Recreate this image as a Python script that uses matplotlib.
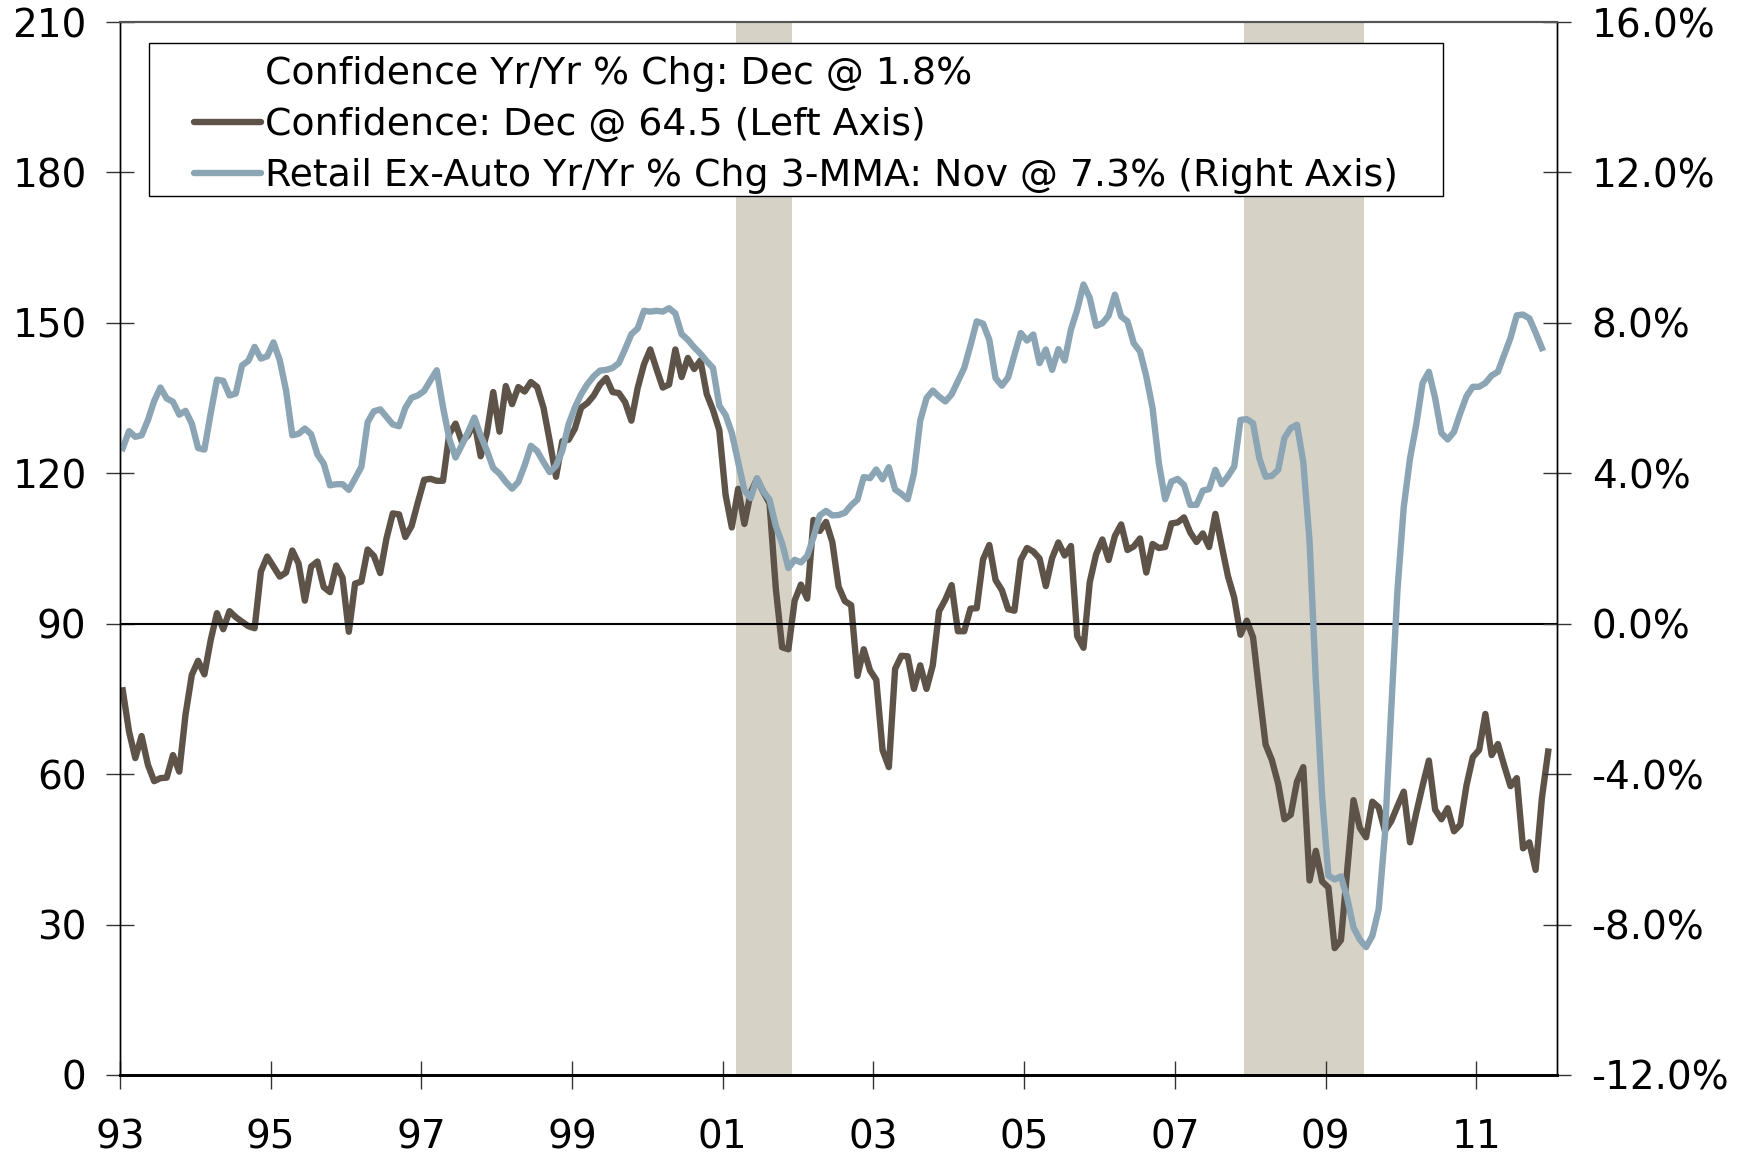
import matplotlib
matplotlib.use('Agg')
import matplotlib.pyplot as plt
from matplotlib.lines import Line2D
from matplotlib.patches import Rectangle
import numpy as np

plt.rcParams['font.family'] = 'DejaVu Sans'

# Conference Board consumer confidence, monthly Jan 1993 - Dec 2011 (left axis)
confidence = [
    76.7, 68.5, 63.2, 67.6, 61.9, 58.6, 59.2, 59.3, 63.8, 60.5, 71.9, 79.8,
    82.6, 79.9, 86.7, 92.1, 88.9, 92.5, 91.3, 90.4, 89.5, 89.1, 100.4, 103.4,
    101.4, 99.4, 100.2, 104.6, 102.0, 94.6, 101.4, 102.4, 97.3, 96.3, 101.6, 99.2,
    88.4, 98.0, 98.4, 104.8, 103.5, 100.1, 107.0, 112.0, 111.8, 107.3, 109.5, 114.2,
    118.7, 118.9, 118.5, 118.5, 127.9, 129.9, 126.3, 127.6, 130.2, 123.4, 128.1, 136.2,
    128.3, 137.4, 133.8, 137.2, 136.3, 138.2, 137.2, 133.1, 126.4, 119.3, 126.4, 126.7,
    128.9, 133.1, 134.0, 135.5, 137.7, 139.0, 136.2, 136.0, 134.2, 130.5, 137.0, 141.7,
    144.7, 140.8, 137.1, 137.7, 144.7, 139.2, 143.0, 140.8, 142.5, 135.8, 132.6, 128.6,
    115.7, 109.2, 116.9, 109.9, 116.1, 118.9, 116.3, 114.0, 97.0, 85.3, 84.9, 94.6,
    97.8, 95.0, 110.7, 108.5, 110.3, 106.3, 97.4, 94.5, 93.7, 79.6, 84.9, 80.7,
    78.8, 64.8, 61.4, 81.0, 83.6, 83.5, 77.0, 81.7, 77.0, 81.7, 92.5, 94.8,
    97.7, 88.5, 88.5, 93.0, 93.1, 102.8, 105.7, 98.7, 96.7, 92.9, 92.6, 102.7,
    105.1, 104.4, 103.0, 97.5, 103.1, 106.2, 103.6, 105.5, 87.5, 85.2, 98.3, 103.8,
    106.8, 102.7, 107.5, 109.8, 104.7, 105.4, 107.0, 100.2, 105.9, 105.1, 105.3, 110.0,
    110.2, 111.2, 108.2, 106.3, 108.0, 105.3, 111.9, 105.6, 99.5, 95.2, 87.8, 90.6,
    87.3, 76.4, 65.9, 62.8, 58.1, 51.0, 51.9, 58.5, 61.4, 38.8, 44.7, 38.6,
    37.4, 25.3, 26.9, 40.8, 54.8, 49.3, 47.4, 54.5, 53.4, 48.7, 50.6, 53.6,
    56.5, 46.4, 52.3, 57.7, 62.7, 52.9, 51.0, 53.2, 48.6, 49.9, 57.8, 63.4,
    64.8, 72.0, 63.8, 66.0, 61.7, 57.6, 59.2, 45.2, 46.4, 40.9, 55.2, 64.5,
]

# Retail sales ex-auto, yr/yr % chg 3-MMA, monthly Jan 1993 - Nov 2011 (right axis)
retail = [
    4.67, 5.12, 4.97, 5.01, 5.41, 5.92, 6.28, 5.99, 5.90, 5.56, 5.66, 5.32,
    4.67, 4.63, 5.59, 6.49, 6.46, 6.07, 6.12, 6.87, 6.99, 7.36, 7.05, 7.11,
    7.48, 7.01, 6.21, 5.01, 5.05, 5.19, 5.04, 4.50, 4.26, 3.68, 3.71, 3.71,
    3.56, 3.86, 4.17, 5.36, 5.65, 5.70, 5.50, 5.30, 5.25, 5.74, 6.01, 6.07,
    6.19, 6.47, 6.74, 5.76, 4.92, 4.42, 4.75, 5.10, 5.48, 5.00, 4.60, 4.14,
    3.99, 3.77, 3.59, 3.77, 4.21, 4.73, 4.59, 4.30, 4.03, 4.20, 4.60, 5.30,
    5.75, 6.10, 6.37, 6.58, 6.73, 6.75, 6.80, 6.93, 7.30, 7.70, 7.85, 8.32,
    8.30, 8.32, 8.30, 8.39, 8.25, 7.70, 7.55, 7.35, 7.18, 6.98, 6.80, 5.80,
    5.55, 5.07, 4.30, 3.55, 3.34, 3.87, 3.52, 3.30, 2.60, 2.14, 1.48, 1.70,
    1.63, 1.80, 2.30, 2.88, 3.00, 2.88, 2.89, 2.95, 3.15, 3.30, 3.90, 3.87,
    4.10, 3.84, 4.16, 3.57, 3.45, 3.31, 4.00, 5.40, 6.00, 6.20, 6.04, 5.91,
    6.10, 6.45, 6.80, 7.40, 8.04, 7.98, 7.55, 6.53, 6.33, 6.55, 7.15, 7.73,
    7.53, 7.69, 6.93, 7.29, 6.75, 7.30, 7.00, 7.82, 8.35, 9.02, 8.66, 7.92,
    7.99, 8.19, 8.75, 8.17, 8.04, 7.46, 7.24, 6.58, 5.73, 4.27, 3.31, 3.78,
    3.85, 3.69, 3.16, 3.16, 3.54, 3.58, 4.09, 3.71, 3.92, 4.18, 5.42, 5.44,
    5.33, 4.40, 3.91, 3.93, 4.09, 4.94, 5.20, 5.29, 4.30, 2.20, -1.50, -4.60,
    -6.70, -6.80, -6.72, -7.30, -8.08, -8.40, -8.60, -8.30, -7.60, -5.60, -2.30, 0.90,
    3.10, 4.40, 5.30, 6.40, 6.70, 6.00, 5.07, 4.90, 5.10, 5.60, 6.05, 6.30,
    6.30, 6.40, 6.60, 6.70, 7.15, 7.60, 8.20, 8.22, 8.12, 7.74, 7.33,
]

recessions = [(2001.17, 2001.92), (2007.92, 2009.51)]
year_ticks = list(range(1993, 2012, 2))
year_labels = [f"{y % 100:02d}" for y in year_ticks]
left_ticks = list(range(0, 211, 30))
right_ticks = list(range(-12, 17, 4))

legend_labels = [
    "Confidence Yr/Yr % Chg: Dec @ 1.8%",
    "Confidence: Dec @ 64.5 (Left Axis)",
    "Retail Ex-Auto Yr/Yr % Chg 3-MMA: Nov @ 7.3% (Right Axis)",
]

BROWN = '#5E5348'
BLUE = '#8BA5B5'
SHADE = '#D6D2C6'

t_conf = 1993 + (np.arange(len(confidence)) + 0.45) / 12
t_retail = 1993 + (np.arange(len(retail)) + 0.45) / 12

fig = plt.figure(figsize=(17.61, 11.59), dpi=100)
ax = fig.add_axes([0.0681, 0.0725, 0.8160, 0.9085])
ax2 = ax.twinx()

for a, b in recessions:
    ax.axvspan(a, b, color=SHADE, lw=0, zorder=0)
ax.axhline(90, color='black', lw=1.5, zorder=3)
ax.plot(t_conf, confidence, color=BROWN, lw=4.6, zorder=2)
ax2.plot(t_retail, retail, color=BLUE, lw=4.6, zorder=2)

# legend box drawn by hand so the padding can differ left/top
box = Rectangle((0.0205, 0.8343), 0.9002, 0.146, transform=ax2.transAxes,
                facecolor='white', edgecolor='black', lw=1.0, zorder=4)
ax2.add_patch(box)
handles = [
    Line2D([], [], color='none'),
    Line2D([], [], color=BROWN, lw=4.6, solid_capstyle='round'),
    Line2D([], [], color=BLUE, lw=4.6, solid_capstyle='round'),
]
leg = ax2.legend(handles, legend_labels, loc='upper left', bbox_to_anchor=(0.0517, 0.9675),
                 frameon=False, fontsize=27.3, handlelength=1.75, handletextpad=0.12,
                 labelspacing=0.39, borderpad=0, borderaxespad=0)
leg.set_zorder(5)

ax.set_xlim(1993, 2012.07)
ax.set_ylim(0, 210)
ax2.set_ylim(-12, 16)

ax.set_xticks(year_ticks)
ax.set_xticklabels(year_labels)
ax.set_yticks(left_ticks)
ax2.set_yticks(right_ticks)
ax2.set_yticklabels([f"{v:.1f}%" for v in right_ticks])

ax.tick_params(axis='both', direction='inout', length=20, width=1, labelsize=28, color='#333333')
ax.tick_params(axis='x', pad=21)
ax.tick_params(axis='y', pad=14)
ax2.tick_params(axis='y', direction='inout', length=20, width=1, labelsize=28, pad=15, color='#333333')

for a in (ax, ax2):
    a.spines['left'].set_linewidth(1)
    a.spines['right'].set_linewidth(1)
    a.spines['top'].set_color('#555555')
    a.spines['top'].set_linewidth(1.5)
    a.spines['bottom'].set_linewidth(2)

fig.savefig('out.png', dpi=100)
plt.close()
